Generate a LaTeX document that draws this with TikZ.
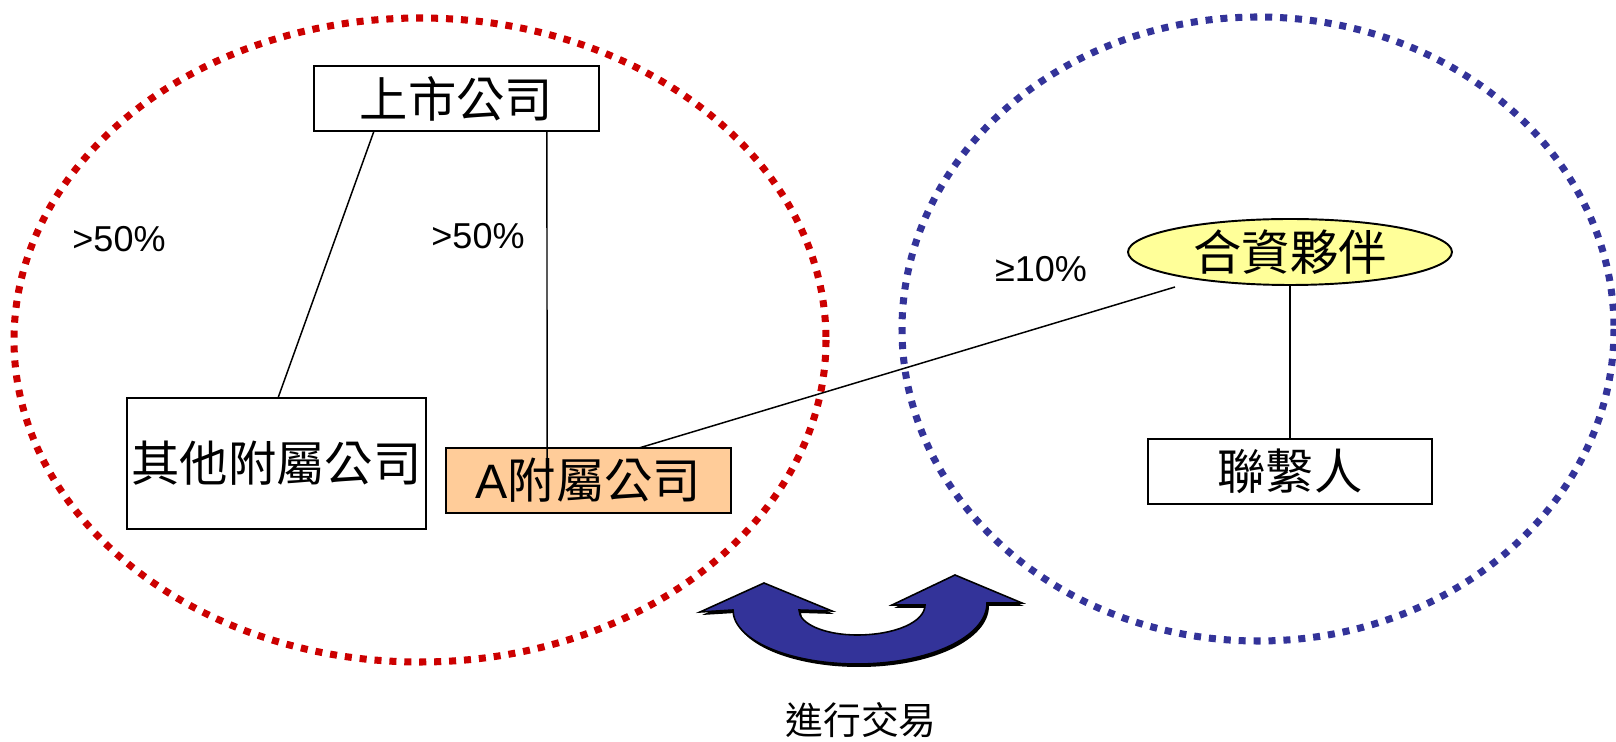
\documentclass[tikz,border=0pt]{standalone}
\usepackage{fontspec}
\setmainfont{Liberation Sans}
\newfontfamily\cjk{Noto Sans CJK TC}
\usetikzlibrary{shapes.geometric}
\definecolor{dred}{RGB}{204,0,0}
\definecolor{dblue}{RGB}{51,51,153}
\definecolor{peach}{RGB}{255,204,153}
\definecolor{lyellow}{RGB}{255,255,153}
\begin{document}
\begin{tikzpicture}[x=0.02cm,y=-0.02cm,
  boxnode/.style={draw=black,line width=1.1pt,rectangle,inner sep=0pt,outer sep=0pt,
    font=\fontsize{27.5}{31}\selectfont\cjk},
  pct/.style={font=\fontsize{20.5}{24}\selectfont},
  conn/.style={draw=black,line width=0.85pt},
  dotring/.style={line width=4pt,dash pattern=on 4pt off 4.5pt}]
\useasboundingbox (0,0) rectangle (1616,742);
% group ellipses
\draw[dotring,dred] (420,340) ellipse [x radius=406, y radius=322];
\draw[dotring,dblue] (1258,329) ellipse [x radius=356, y radius=312];
% nodes
\node[boxnode,minimum width=5.7cm,minimum height=1.3cm] (top) at (456.5,98.5) {上市公司};
\node[boxnode,minimum width=5.98cm,minimum height=2.62cm] (other) at (276.5,463.5) {其他附屬公司};
\node[boxnode,fill=peach,minimum width=5.7cm,minimum height=1.3cm] (asub) at (588.5,480.5) {{\fontspec{Liberation Sans}A}附屬公司};
\node[boxnode,ellipse,fill=lyellow,minimum width=6.48cm,minimum height=1.32cm] (jv) at (1290,252) {合資夥伴};
\node[boxnode,minimum width=5.68cm,minimum height=1.3cm] (contact) at (1290,471.5) {聯繫人};
\coordinate (jvend) at (1175,287);
% connectors
\draw[conn] ([xshift=1.2cm]top.south west) -- ([xshift=3.02cm]other.north west);
\draw[conn] ([xshift=4.66cm]top.south west) -- ([xshift=2.02cm,yshift=-0.2cm]asub.north west);
\draw[conn] ([xshift=3.86cm]asub.north west) -- (jvend);
\draw[conn] (jv.south) -- (contact.north);
% labels
\node[pct] (p1) at (119,239) {>50\%};
\node[pct] (p2) at (478,236) {>50\%};
\node[pct] (p3) at (1041,269) {≥10\%};
\node[font=\fontsize{21.5}{24}\selectfont\cjk] (trade) at (861,720) {進行交易};
% U-turn double arrow
\def\uarrow{(733,610) -- (700,612) -- (764,583) -- (832,611) -- (799,610)
  .. controls (799,624) and (825,635) .. (857,635)
  .. controls (895,635) and (925,622) .. (925,605)
  -- (892,605) -- (955,575) -- (1022,603) -- (987,603)
  .. controls (987,637) and (929,664) .. (857,664)
  .. controls (789,664) and (733,640) .. (733,610) -- cycle}
\fill[black,shift={(2,3)}] \uarrow;
\draw[fill=dblue,draw=black,line width=0.9pt,line join=miter] \uarrow;
\end{tikzpicture}
\end{document}
